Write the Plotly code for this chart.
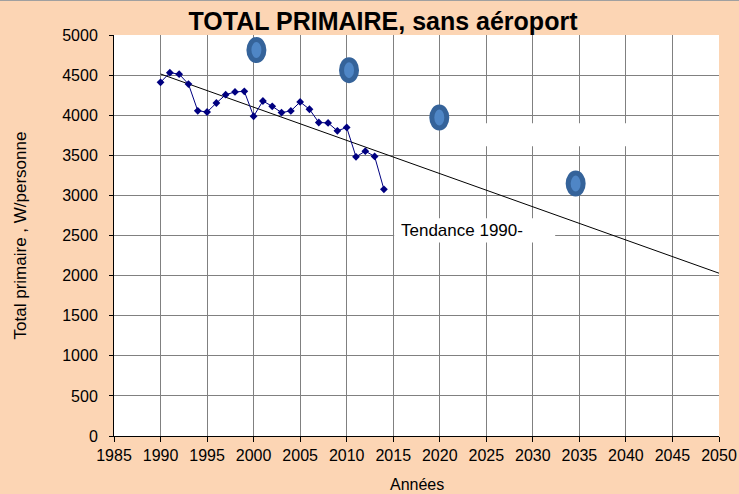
import plotly.graph_objects as go

# ---- data ----
years = list(range(1990, 2015))
values = [4410, 4530, 4512, 4388, 4055, 4040, 4152, 4256, 4290, 4298,
          3987, 4177, 4111, 4033, 4053, 4165, 4074, 3909, 3904, 3805,
          3847, 3481, 3552, 3486, 3076]

trend_years = [1990, 2050]
trend_values = [4514, 2030]

target_years = [2000.3, 2010.25, 2019.95, 2034.6]
target_values = [4812, 4562, 3971, 3147]

x_ticks = list(range(1985, 2051, 5))
y_ticks = list(range(0, 5001, 500))

title_text = "TOTAL PRIMAIRE, sans aéroport"
x_title = "Années"
y_title = "Total primaire , W/personne"
trend_label = "Tendance 1990-"

FONT = "Arial, Liberation Sans, sans-serif"
PEACH = "#FCD5B4"
GRID = "#808080"

fig = go.Figure()

fig.add_trace(go.Scatter(
    x=trend_years, y=trend_values, mode="lines",
    line=dict(color="black", width=1), hoverinfo="skip", showlegend=False))

fig.add_trace(go.Scatter(
    x=years, y=values, mode="lines+markers",
    line=dict(color="#000080", width=1),
    marker=dict(symbol="diamond", size=6, color="#000080"),
    showlegend=False))

shapes = []
# white boxes hiding gridlines (text boxes)
shapes.append(dict(type="rect", xref="x", yref="y", x0=2024.9, x1=2040.5,
                   y0=3612, y1=3899, fillcolor="white", line=dict(width=0),
                   layer="between"))
shapes.append(dict(type="rect", xref="x", yref="y", x0=2015.1, x1=2032.4,
                   y0=2414, y1=2714, fillcolor="white", line=dict(width=0),
                   layer="between"))
# target ellipses
for ty, tv in zip(target_years, target_values):
    shapes.append(dict(type="circle", xref="x", yref="y",
                       xsizemode="pixel", ysizemode="pixel",
                       xanchor=ty, yanchor=tv,
                       x0=-7.5, x1=7.5, y0=-10.5, y1=10.5,
                       fillcolor="#4F86C6", line=dict(color="#35639A", width=5),
                       layer="above"))
# top border of chart area
shapes.append(dict(type="line", xref="paper", yref="paper",
                   x0=-0.2, x1=1.1, y0=1 + 34.5 / 401, y1=1 + 34.5 / 401,
                   line=dict(color="#a0a0a0", width=1)))

fig.update_layout(
    width=739, height=494,
    margin=dict(l=114, r=20, t=35, b=58),
    paper_bgcolor=PEACH, plot_bgcolor="white",
    font=dict(family=FONT, size=16, color="black"),
    title=dict(text="<b>" + title_text + "</b>", x=383 / 739, xanchor="center",
               y=1 - 21 / 494, yanchor="middle",
               font=dict(family=FONT, size=25, color="black")),
    shapes=shapes,
    annotations=[
        dict(x=2015.6, y=2565, xref="x", yref="y", text=trend_label,
             showarrow=False, xanchor="left", yanchor="middle",
             font=dict(family=FONT, size=17, color="black")),
        dict(x=0.5, y=-48 / 401, xref="paper", yref="paper", text=x_title,
             showarrow=False, xanchor="center", yanchor="middle",
             font=dict(family=FONT, size=16, color="black")),
    ],
)

fig.update_xaxes(
    range=[1985, 2050], tickmode="array", tickvals=x_ticks,
    ticktext=[str(v) for v in x_ticks],
    showgrid=True, gridcolor=GRID, gridwidth=1,
    showline=True, linecolor="black", linewidth=1,
    ticks="outside", ticklen=5, tickcolor="black",
    zeroline=False, automargin=False,
)
fig.update_yaxes(
    range=[0, 5000], tickmode="array", tickvals=y_ticks,
    ticktext=[str(v) for v in y_ticks],
    showgrid=True, gridcolor=GRID, gridwidth=1,
    showline=True, linecolor="black", linewidth=1,
    ticks="outside", ticklen=4, tickcolor="black",
    ticklabelstandoff=8,
    zeroline=False, automargin=False,
    title=dict(text=y_title, standoff=31, font=dict(size=17)),
)

fig.write_html("out.html",
               config={"displayModeBar": False},
               post_script="document.body.style.margin='0';"
                           "document.body.style.overflow='hidden';")
